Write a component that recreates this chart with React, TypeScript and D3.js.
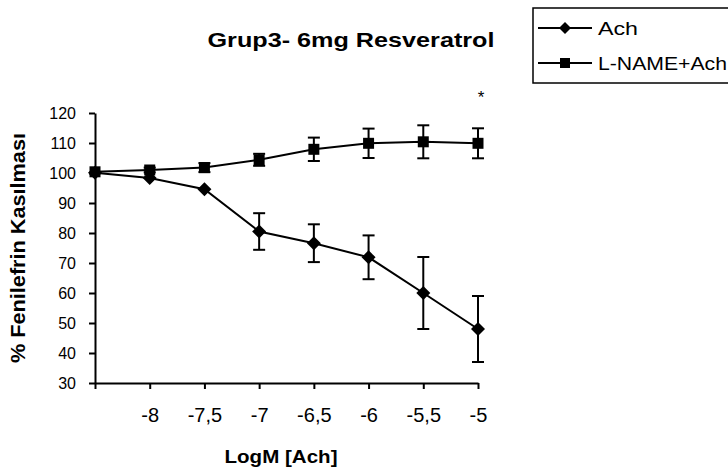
import * as d3 from 'd3';
import React, { useRef, useEffect } from 'react';

// log concentrations, first point is the baseline (no label)
const logDoses = [-8.5, -8, -7.5, -7, -6.5, -6, -5.5, -5];
const tickLabels = ['', '-8', '-7,5', '-7', '-6,5', '-6', '-5,5', '-5'];

const achMean = [100.1, 98.3, 94.6, 80.5, 76.6, 71.9, 60.0, 48.0];
const achErr = [0, 0, 0, 6.1, 6.3, 7.3, 12.0, 11.0];

const lnameMean = [100.4, 101.0, 101.8, 104.4, 107.9, 109.9, 110.4, 109.9];
const lnameErr = [0, 0.8, 1.5, 2.0, 3.9, 4.9, 5.5, 5.0];

const yTicks = [30, 40, 50, 60, 70, 80, 90, 100, 110, 120];

const diamondPath = (r) => `M0,${-r}L${r},0L0,${r}L${-r},0Z`;
const squarePath = (r) => `M${-r},${-r}H${r}V${r}H${-r}Z`;

function App() {
    const ref = useRef(null);
    const width = 728;
    const height = 471;

    useEffect(() => {
        draw();
    }, []);

    const draw = () => {
        const svg = d3.select(ref.current);
        svg.selectAll("*").remove();

        const x = d3.scaleLinear().domain([-8.5, -5]).range([95, 478]);
        const y = d3.scaleLinear().domain([30, 120]).range([383, 113]);

        const font = "Arial, 'Liberation Sans', sans-serif";

        // y axis
        const yAxis = svg.append("g")
            .attr("transform", "translate(95,0)")
            .call(d3.axisLeft(y).tickValues(yTicks).tickSize(6).tickPadding(13).tickSizeOuter(0));
        yAxis.select(".domain").attr("stroke", "#000").attr("stroke-width", 2);
        yAxis.selectAll(".tick line").attr("stroke-width", 2);
        yAxis.selectAll("text").attr("font-size", 16).attr("font-family", font).attr("fill", "#000");

        // x axis
        const xAxis = svg.append("g")
            .attr("transform", "translate(0,383)")
            .call(d3.axisBottom(x).tickValues(logDoses)
                .tickFormat((d, i) => tickLabels[i]).tickSize(6).tickPadding(19).tickSizeOuter(0));
        xAxis.select(".domain").attr("stroke", "#000").attr("stroke-width", 2);
        xAxis.selectAll(".tick line").attr("stroke-width", 2);
        xAxis.selectAll("text").attr("font-size", 20).attr("font-family", font).attr("fill", "#000");

        const line = d3.line().x(d => x(d[0])).y(d => y(d[1]));

        const series = [
            { name: "Ach", mean: achMean, err: achErr, shape: diamondPath(7), legendShape: diamondPath(6), textLen: 40 },
            { name: "L-NAME+Ach", mean: lnameMean, err: lnameErr, shape: squarePath(5.5), legendShape: squarePath(5), textLen: 129 },
        ];

        series.forEach(s => {
            const g = svg.append("g");
            // error bars
            logDoses.forEach((ld, i) => {
                if (!s.err[i]) return;
                const cx = x(ld);
                const top = y(s.mean[i] + s.err[i]);
                const bot = y(s.mean[i] - s.err[i]);
                g.append("line").attr("x1", cx).attr("x2", cx).attr("y1", top).attr("y2", bot)
                    .attr("stroke", "#000").attr("stroke-width", 2);
                [top, bot].forEach(yy => {
                    g.append("line").attr("x1", cx - 6).attr("x2", cx + 6).attr("y1", yy).attr("y2", yy)
                        .attr("stroke", "#000").attr("stroke-width", 2);
                });
            });
            g.append("path")
                .datum(logDoses.map((ld, i) => [ld, s.mean[i]]))
                .attr("d", line)
                .attr("fill", "none")
                .attr("stroke", "#000")
                .attr("stroke-width", 2);
            g.selectAll("path.mk")
                .data(logDoses)
                .enter()
                .append("path")
                .attr("class", "mk")
                .attr("d", s.shape)
                .attr("transform", (d, i) => `translate(${x(d)},${y(s.mean[i])})`)
                .attr("fill", "#000");
        });

        // significance mark
        svg.append("text")
            .attr("x", x(-5) + 3)
            .attr("y", 103)
            .attr("text-anchor", "middle")
            .attr("font-family", font)
            .attr("font-size", 17)
            .text("*");

        // title
        svg.append("text")
            .attr("x", 351)
            .attr("y", 47)
            .attr("text-anchor", "middle")
            .attr("font-family", font)
            .attr("font-weight", "bold")
            .attr("font-size", 21)
            .attr("textLength", 287)
            .attr("lengthAdjust", "spacingAndGlyphs")
            .text("Grup3- 6mg Resveratrol");

        // axis titles
        svg.append("text")
            .attr("x", 281)
            .attr("y", 463)
            .attr("text-anchor", "middle")
            .attr("font-family", font)
            .attr("font-weight", "bold")
            .attr("font-size", 19)
            .attr("textLength", 113)
            .attr("lengthAdjust", "spacingAndGlyphs")
            .text("LogM [Ach]");

        svg.append("text")
            .attr("transform", "translate(25,248) rotate(-90)")
            .attr("text-anchor", "middle")
            .attr("font-family", font)
            .attr("font-weight", "bold")
            .attr("font-size", 21)
            .attr("textLength", 230)
            .attr("lengthAdjust", "spacingAndGlyphs")
            .text("% Fenilefrin Kasılması");

        // legend
        const lg = svg.append("g");
        lg.append("rect")
            .attr("x", 533).attr("y", 8).attr("width", 200).attr("height", 75)
            .attr("fill", "#fff").attr("stroke", "#000").attr("stroke-width", 1.5);
        series.forEach((s, i) => {
            const ly = 28 + i * 35;
            lg.append("line").attr("x1", 538).attr("x2", 592).attr("y1", ly).attr("y2", ly)
                .attr("stroke", "#000").attr("stroke-width", 2);
            lg.append("path")
                .attr("d", s.legendShape)
                .attr("transform", `translate(565,${ly})`)
                .attr("fill", "#000");
            lg.append("text")
                .attr("x", 598).attr("y", ly + 7)
                .attr("font-family", font)
                .attr("font-size", 19)
                .attr("textLength", s.textLen)
                .attr("lengthAdjust", "spacingAndGlyphs")
                .text(s.name);
        });
    };

    return (
        <svg ref={ref} width={width} height={height}
            style={{ position: "absolute", left: 0, top: 0, background: "#fff" }}>
        </svg>
    );
}

export default App;
